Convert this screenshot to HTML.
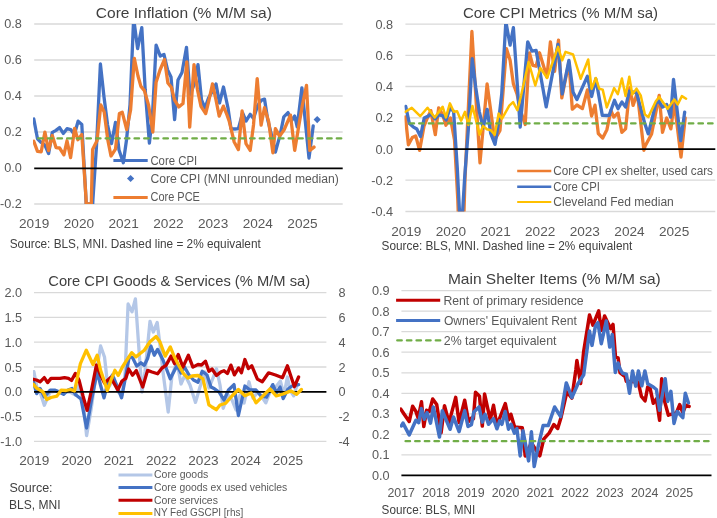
<!DOCTYPE html><html><head><meta charset="utf-8"><title>Core inflation charts</title>
<style>html,body{margin:0;padding:0;background:#fff;}svg{display:block;}text{font-family:"Liberation Sans",Arial,sans-serif;}</style></head><body>
<svg width="717" height="518" viewBox="0 0 717 518">
<rect width="717" height="518" fill="#fff"/>
<defs>
<clipPath id="c1"><rect x="33" y="24" width="311" height="180"/></clipPath>
<clipPath id="c2"><rect x="404.5" y="24.1" width="311" height="187.4"/></clipPath>
<clipPath id="c3"><rect x="33" y="292.6" width="294" height="148.5"/></clipPath>
<clipPath id="c4"><rect x="400" y="285" width="312" height="190.4"/></clipPath>
</defs>
<line x1="34.2" y1="24.0" x2="342.7" y2="24.0" stroke="#D9D9D9" stroke-width="1.3"/>
<line x1="34.2" y1="60.0" x2="342.7" y2="60.0" stroke="#D9D9D9" stroke-width="1.3"/>
<line x1="34.2" y1="96.0" x2="342.7" y2="96.0" stroke="#D9D9D9" stroke-width="1.3"/>
<line x1="34.2" y1="132.0" x2="342.7" y2="132.0" stroke="#D9D9D9" stroke-width="1.3"/>
<line x1="34.2" y1="204.0" x2="342.7" y2="204.0" stroke="#D9D9D9" stroke-width="1.3"/>
<text x="21.8" y="28.0" font-size="12.7" fill="#595959" text-anchor="end">0.8</text>
<text x="21.8" y="64.0" font-size="12.7" fill="#595959" text-anchor="end">0.6</text>
<text x="21.8" y="100.0" font-size="12.7" fill="#595959" text-anchor="end">0.4</text>
<text x="21.8" y="136.0" font-size="12.7" fill="#595959" text-anchor="end">0.2</text>
<text x="21.8" y="172.0" font-size="12.7" fill="#595959" text-anchor="end">0.0</text>
<text x="21.8" y="208.0" font-size="12.7" fill="#595959" text-anchor="end">-0.2</text>
<text x="34.2" y="227.6" font-size="13.0" fill="#595959" textLength="30.3" lengthAdjust="spacingAndGlyphs" text-anchor="middle">2019</text>
<text x="78.9" y="227.6" font-size="13.0" fill="#595959" textLength="30.3" lengthAdjust="spacingAndGlyphs" text-anchor="middle">2020</text>
<text x="123.6" y="227.6" font-size="13.0" fill="#595959" textLength="30.3" lengthAdjust="spacingAndGlyphs" text-anchor="middle">2021</text>
<text x="168.4" y="227.6" font-size="13.0" fill="#595959" textLength="30.3" lengthAdjust="spacingAndGlyphs" text-anchor="middle">2022</text>
<text x="213.1" y="227.6" font-size="13.0" fill="#595959" textLength="30.3" lengthAdjust="spacingAndGlyphs" text-anchor="middle">2023</text>
<text x="257.8" y="227.6" font-size="13.0" fill="#595959" textLength="30.3" lengthAdjust="spacingAndGlyphs" text-anchor="middle">2024</text>
<text x="302.5" y="227.6" font-size="13.0" fill="#595959" textLength="30.3" lengthAdjust="spacingAndGlyphs" text-anchor="middle">2025</text>
<text x="95.8" y="18.0" font-size="15.0" fill="#404040" textLength="176.0" lengthAdjust="spacingAndGlyphs">Core Inflation (% M/M sa)</text>
<text x="9.7" y="247.5" font-size="12.3" fill="#404040" textLength="251.1" lengthAdjust="spacingAndGlyphs">Source: BLS, MNI. Dashed line = 2% equivalent</text>
<polyline points="33.8,119.0 37.5,138.8 41.2,142.5 44.9,145.0 48.6,153.6 52.3,132.4 56.0,130.4 59.6,127.6 63.3,133.4 67.0,128.7 70.7,129.6 74.4,134.5 78.1,121.2 81.8,124.5 85.5,190.0 86.2,204.0 89.2,204.0 92.7,204.0 92.9,200.0 96.5,146.0 100.4,64.0 104.0,97.0 107.6,125.0 111.5,143.6 115.5,122.3 119.0,150.0 123.3,162.7 126.5,140.0 130.0,105.0 133.4,24.0 133.6,24.0 134.4,24.0 137.6,48.6 141.8,27.6 145.2,90.0 149.4,143.0 152.5,115.0 156.1,45.2 160.3,56.1 164.0,54.5 167.5,69.7 171.0,77.0 174.6,119.5 178.0,80.0 182.0,72.5 186.5,47.3 190.0,95.0 194.0,85.0 198.0,64.6 201.5,100.0 205.0,108.0 208.5,98.0 212.0,92.0 216.0,83.9 219.5,103.0 223.5,87.0 228.0,108.0 231.0,128.8 235.0,129.0 238.4,128.6 242.6,113.0 246.0,121.0 250.2,114.3 253.5,118.5 257.5,106.0 261.1,100.4 264.5,99.1 267.8,120.2 271.5,135.0 275.4,152.1 280.4,133.6 283.8,116.8 288.0,112.6 291.3,121.0 294.7,116.0 297.2,126.9 301.9,87.8 309.0,158.0 313.2,126.0" fill="none" stroke="#4472C4" stroke-width="3.3" stroke-linejoin="round" stroke-linecap="round" clip-path="url(#c1)"/>
<polyline points="33.8,141.3 37.5,151.4 41.2,151.8 44.9,132.1 48.6,150.6 52.3,135.5 56.0,147.6 59.6,148.0 63.9,154.8 67.0,140.8 70.6,157.6 74.6,128.5 77.9,139.7 81.8,134.6 86.0,198.0 86.2,204.0 88.9,204.0 91.3,204.0 92.6,149.5 97.0,140.8 100.8,105.0 104.2,112.0 107.8,140.0 111.0,156.0 115.5,149.2 119.4,113.4 122.2,112.2 126.7,129.6 130.6,110.0 134.3,58.3 138.0,76.0 140.9,86.4 144.4,90.6 148.6,105.2 152.8,132.1 156.1,82.2 160.0,70.0 164.5,59.5 167.9,83.0 171.3,87.2 174.6,100.2 178.8,106.9 183.0,103.5 186.8,61.8 189.7,127.1 194.0,64.6 197.5,90.0 201.0,106.3 205.7,113.6 209.0,100.0 212.5,83.9 216.0,100.0 219.2,116.1 223.4,106.1 227.0,115.0 229.2,121.2 234.2,142.0 238.4,149.6 242.1,110.9 246.0,143.7 250.2,150.4 253.5,125.0 257.2,78.6 261.1,125.2 264.5,107.6 268.7,121.8 272.9,152.9 275.4,128.6 279.6,136.1 284.0,130.0 290.5,115.1 294.7,150.4 298.9,125.2 302.3,105.5 306.5,85.3 309.8,150.4 314.0,147.1" fill="none" stroke="#ED7D31" stroke-width="3.3" stroke-linejoin="round" stroke-linecap="round" clip-path="url(#c1)"/>
<polygon points="317.2,116.0 320.8,119.6 317.2,123.2 313.6,119.6" fill="#4472C4"/>
<line x1="34.2" y1="168.4" x2="342.7" y2="168.4" stroke="#000" stroke-width="1.75"/>
<line x1="38.25" y1="138.4" x2="342.5" y2="138.4" stroke="#70AD47" stroke-width="2.3" stroke-dasharray="4.5 5.13" stroke-linecap="round"/>
<line x1="113.4" y1="160.4" x2="147.7" y2="160.4" stroke="#4472C4" stroke-width="3"/>
<text x="150.4" y="164.7" font-size="12.3" fill="#595959" textLength="46.8" lengthAdjust="spacingAndGlyphs">Core CPI</text>
<polygon points="130.6,174.9 134.2,178.5 130.6,182.1 127.0,178.5" fill="#4472C4"/>
<text x="150.4" y="182.6" font-size="12.3" fill="#595959" textLength="188.4" lengthAdjust="spacingAndGlyphs">Core CPI (MNI unrounded median)</text>
<line x1="113.4" y1="197.4" x2="147.7" y2="197.4" stroke="#ED7D31" stroke-width="3"/>
<text x="150.5" y="201.0" font-size="12.3" fill="#595959" textLength="49.4" lengthAdjust="spacingAndGlyphs">Core PCE</text>
<line x1="405.4" y1="24.1" x2="715.3" y2="24.1" stroke="#D9D9D9" stroke-width="1.3"/>
<line x1="405.4" y1="55.3" x2="715.3" y2="55.3" stroke="#D9D9D9" stroke-width="1.3"/>
<line x1="405.4" y1="86.5" x2="715.3" y2="86.5" stroke="#D9D9D9" stroke-width="1.3"/>
<line x1="405.4" y1="117.8" x2="715.3" y2="117.8" stroke="#D9D9D9" stroke-width="1.3"/>
<line x1="405.4" y1="180.2" x2="715.3" y2="180.2" stroke="#D9D9D9" stroke-width="1.3"/>
<line x1="405.4" y1="211.5" x2="715.3" y2="211.5" stroke="#D9D9D9" stroke-width="1.3"/>
<text x="393.1" y="28.6" font-size="12.7" fill="#595959" text-anchor="end">0.8</text>
<text x="393.1" y="59.8" font-size="12.7" fill="#595959" text-anchor="end">0.6</text>
<text x="393.1" y="91.0" font-size="12.7" fill="#595959" text-anchor="end">0.4</text>
<text x="393.1" y="122.3" font-size="12.7" fill="#595959" text-anchor="end">0.2</text>
<text x="393.1" y="153.5" font-size="12.7" fill="#595959" text-anchor="end">0.0</text>
<text x="393.1" y="184.7" font-size="12.7" fill="#595959" text-anchor="end">-0.2</text>
<text x="393.1" y="216.0" font-size="12.7" fill="#595959" text-anchor="end">-0.4</text>
<text x="406.3" y="235.6" font-size="13.0" fill="#595959" textLength="30.3" lengthAdjust="spacingAndGlyphs" text-anchor="middle">2019</text>
<text x="450.9" y="235.6" font-size="13.0" fill="#595959" textLength="30.3" lengthAdjust="spacingAndGlyphs" text-anchor="middle">2020</text>
<text x="495.6" y="235.6" font-size="13.0" fill="#595959" textLength="30.3" lengthAdjust="spacingAndGlyphs" text-anchor="middle">2021</text>
<text x="540.2" y="235.6" font-size="13.0" fill="#595959" textLength="30.3" lengthAdjust="spacingAndGlyphs" text-anchor="middle">2022</text>
<text x="584.8" y="235.6" font-size="13.0" fill="#595959" textLength="30.3" lengthAdjust="spacingAndGlyphs" text-anchor="middle">2023</text>
<text x="629.5" y="235.6" font-size="13.0" fill="#595959" textLength="30.3" lengthAdjust="spacingAndGlyphs" text-anchor="middle">2024</text>
<text x="674.1" y="235.6" font-size="13.0" fill="#595959" textLength="30.3" lengthAdjust="spacingAndGlyphs" text-anchor="middle">2025</text>
<text x="462.9" y="18.1" font-size="15.0" fill="#404040" textLength="195.1" lengthAdjust="spacingAndGlyphs">Core CPI Metrics (% M/M sa)</text>
<text x="381.6" y="250.0" font-size="12.3" fill="#404040" textLength="250.7" lengthAdjust="spacingAndGlyphs">Source: BLS, MNI. Dashed line = 2% equivalent</text>
<polyline points="405.4,116.8 408.4,144.8 412.3,137.5 415.7,135.9 419.6,150.4 424.1,125.8 426.9,119.0 430.8,110.6 435.3,134.7 438.7,107.8 442.6,114.6 445.9,125.2 450.4,117.9 454.5,140.0 457.8,200.0 458.2,211.5 461.3,211.5 464.0,211.5 465.0,179.0 468.8,98.0 471.9,31.5 476.8,112.4 480.0,162.8 487.1,83.9 494.7,140.0 500.0,130.4 506.4,48.6 510.1,60.3 513.4,83.9 517.0,94.0 521.1,112.4 525.2,124.5 529.4,52.8 532.8,65.4 536.1,66.2 539.5,52.8 546.9,77.1 550.4,41.8 554.6,71.3 558.5,40.2 561.8,97.9 568.9,62.0 572.3,109.2 576.9,105.0 582.4,108.6 587.4,89.9 591.6,116.1 595.0,105.2 598.3,133.5 602.7,138.1 606.9,129.7 610.9,110.3 613.8,117.1 618.0,112.9 621.9,132.3 625.6,128.9 629.8,87.7 633.1,105.4 637.3,92.8 643.9,150.4 644.9,146.6 651.6,133.9 659.2,95.3 662.5,132.3 666.7,118.0 670.9,128.9 674.3,102.0 681.0,157.0 685.2,118.0" fill="none" stroke="#ED7D31" stroke-width="3.3" stroke-linejoin="round" stroke-linecap="round" clip-path="url(#c2)"/>
<polyline points="405.7,106.4 409.4,123.6 413.1,126.8 416.8,129.0 420.5,136.5 424.2,118.1 427.9,116.3 431.4,113.9 435.1,118.9 438.8,114.9 442.5,115.6 446.2,119.9 449.9,108.3 453.6,111.2 457.3,168.1 459.5,211.5 461.0,211.5 462.6,211.5 464.7,176.8 468.3,129.9 472.2,58.7 475.7,87.3 479.3,111.6 483.2,127.8 487.2,109.3 490.7,133.4 495.0,144.4 498.2,124.7 501.7,94.3 505.7,24.1 505.9,24.1 506.3,24.1 510.1,45.2 513.4,27.6 520.2,127.1 527.7,41.8 531.9,51.1 536.1,50.3 546.2,106.9 558.0,44.4 562.2,93.9 568.9,60.3 573.1,92.3 576.9,99.6 587.4,76.3 591.6,96.5 595.8,78.8 602.3,115.4 607.1,115.5 609.2,115.3 614.5,100.3 618.0,108.7 621.9,102.0 625.6,107.1 629.3,91.1 636.5,92.8 644.9,123.9 648.3,133.9 655.8,103.7 658.3,100.3 662.5,107.1 666.7,104.5 670.6,117.1 673.5,79.3 680.7,140.7 684.7,112.1" fill="none" stroke="#4472C4" stroke-width="3.3" stroke-linejoin="round" stroke-linecap="round" clip-path="url(#c2)"/>
<polyline points="405.4,111.8 411.8,107.8 420.2,116.2 427.5,107.8 434.7,117.4 442.6,106.7 445.9,117.4 449.9,103.4 453.8,111.8 457.1,111.2 461.1,120.7 465.0,111.8 468.4,125.0 472.4,105.9 479.6,134.8 483.0,125.9 486.9,129.2 490.8,130.3 494.7,134.8 498.7,113.5 500.0,116.1 502.0,118.6 509.3,105.7 513.1,102.2 517.4,110.2 518.5,105.7 521.1,95.6 528.6,62.0 535.3,85.5 540.3,67.9 547.1,78.0 558.0,46.9 562.2,60.3 565.5,51.9 573.1,54.5 580.7,78.8 588.2,59.5 591.6,88.9 595.8,78.0 599.2,88.7 602.7,89.6 606.8,107.4 614.1,88.1 617.8,94.2 621.9,78.5 625.6,96.1 629.3,76.8 632.3,94.5 636.5,88.6 640.7,95.3 644.9,114.6 648.3,117.1 655.8,101.2 659.2,97.0 667.6,108.7 674.3,99.5 677.7,104.5 681.9,96.1 686.1,98.7" fill="none" stroke="#FFC000" stroke-width="2.5" stroke-linejoin="round" stroke-linecap="round" clip-path="url(#c2)"/>
<line x1="405.4" y1="149.0" x2="715.3" y2="149.0" stroke="#000" stroke-width="1.75"/>
<line x1="409.55" y1="123.4" x2="714.5" y2="123.4" stroke="#70AD47" stroke-width="2.3" stroke-dasharray="4.5 5.13" stroke-linecap="round"/>
<line x1="517.2" y1="170.9" x2="551.3" y2="170.9" stroke="#ED7D31" stroke-width="2.5"/>
<text x="553.3" y="174.6" font-size="12.3" fill="#595959" textLength="159.7" lengthAdjust="spacingAndGlyphs">Core CPI ex shelter, used cars</text>
<line x1="517.2" y1="186.8" x2="551.3" y2="186.8" stroke="#4472C4" stroke-width="2.5"/>
<text x="553.3" y="190.5" font-size="12.3" fill="#595959" textLength="46.6" lengthAdjust="spacingAndGlyphs">Core CPI</text>
<line x1="517.2" y1="202.1" x2="551.3" y2="202.1" stroke="#FFC000" stroke-width="2.0"/>
<text x="553.3" y="205.8" font-size="12.3" fill="#595959" textLength="120.5" lengthAdjust="spacingAndGlyphs">Cleveland Fed median</text>
<line x1="34.0" y1="292.6" x2="326.4" y2="292.6" stroke="#D9D9D9" stroke-width="1.3"/>
<line x1="34.0" y1="317.4" x2="326.4" y2="317.4" stroke="#D9D9D9" stroke-width="1.3"/>
<line x1="34.0" y1="342.2" x2="326.4" y2="342.2" stroke="#D9D9D9" stroke-width="1.3"/>
<line x1="34.0" y1="367.0" x2="326.4" y2="367.0" stroke="#D9D9D9" stroke-width="1.3"/>
<line x1="34.0" y1="416.6" x2="326.4" y2="416.6" stroke="#D9D9D9" stroke-width="1.3"/>
<line x1="34.0" y1="441.4" x2="326.4" y2="441.4" stroke="#D9D9D9" stroke-width="1.3"/>
<text x="22.1" y="297.1" font-size="12.7" fill="#595959" text-anchor="end">2.0</text>
<text x="22.1" y="321.9" font-size="12.7" fill="#595959" text-anchor="end">1.5</text>
<text x="22.1" y="346.7" font-size="12.7" fill="#595959" text-anchor="end">1.0</text>
<text x="22.1" y="371.5" font-size="12.7" fill="#595959" text-anchor="end">0.5</text>
<text x="22.1" y="396.3" font-size="12.7" fill="#595959" text-anchor="end">0.0</text>
<text x="22.1" y="421.1" font-size="12.7" fill="#595959" text-anchor="end">-0.5</text>
<text x="22.1" y="445.9" font-size="12.7" fill="#595959" text-anchor="end">-1.0</text>
<text x="338.4" y="297.1" font-size="12.7" fill="#595959">8</text>
<text x="338.4" y="321.9" font-size="12.7" fill="#595959">6</text>
<text x="338.4" y="346.7" font-size="12.7" fill="#595959">4</text>
<text x="338.4" y="371.5" font-size="12.7" fill="#595959">2</text>
<text x="338.4" y="396.3" font-size="12.7" fill="#595959">0</text>
<text x="338.4" y="421.1" font-size="12.7" fill="#595959">-2</text>
<text x="338.4" y="445.9" font-size="12.7" fill="#595959">-4</text>
<text x="34.3" y="464.6" font-size="13.0" fill="#595959" textLength="30.3" lengthAdjust="spacingAndGlyphs" text-anchor="middle">2019</text>
<text x="76.6" y="464.6" font-size="13.0" fill="#595959" textLength="30.3" lengthAdjust="spacingAndGlyphs" text-anchor="middle">2020</text>
<text x="118.8" y="464.6" font-size="13.0" fill="#595959" textLength="30.3" lengthAdjust="spacingAndGlyphs" text-anchor="middle">2021</text>
<text x="161.1" y="464.6" font-size="13.0" fill="#595959" textLength="30.3" lengthAdjust="spacingAndGlyphs" text-anchor="middle">2022</text>
<text x="203.4" y="464.6" font-size="13.0" fill="#595959" textLength="30.3" lengthAdjust="spacingAndGlyphs" text-anchor="middle">2023</text>
<text x="245.7" y="464.6" font-size="13.0" fill="#595959" textLength="30.3" lengthAdjust="spacingAndGlyphs" text-anchor="middle">2024</text>
<text x="287.9" y="464.6" font-size="13.0" fill="#595959" textLength="30.3" lengthAdjust="spacingAndGlyphs" text-anchor="middle">2025</text>
<text x="48.3" y="285.6" font-size="15.0" fill="#404040" textLength="261.8" lengthAdjust="spacingAndGlyphs">Core CPI Goods &amp; Services (% M/M sa)</text>
<polyline points="33.9,371.7 37.0,388.0 40.0,392.0 44.3,405.3 50.0,392.0 56.0,391.0 63.0,392.0 70.0,392.0 75.4,395.0 79.0,385.0 83.0,400.0 86.6,435.6 91.0,410.0 96.0,375.0 100.6,346.0 104.5,357.0 108.0,388.0 110.0,385.0 114.0,378.0 118.0,392.0 122.0,395.0 125.0,375.0 128.1,304.0 132.0,311.8 135.4,298.9 139.0,350.0 142.0,392.0 145.0,372.0 150.0,321.3 153.3,332.0 157.2,322.5 160.0,345.0 163.0,372.0 168.2,412.0 172.0,375.0 177.0,362.0 181.0,384.0 185.0,375.0 190.0,385.0 195.5,402.4 200.0,387.0 205.0,372.0 209.0,388.0 213.0,378.0 216.5,368.7 220.0,385.0 223.2,408.3 228.0,395.0 232.0,400.0 236.0,410.0 240.0,395.0 244.0,403.0 249.0,381.8 253.0,398.0 258.0,392.0 262.0,397.0 265.8,402.8 270.0,392.0 275.0,388.0 280.4,381.1 284.0,395.0 287.4,377.0 290.0,390.0 293.7,395.8 297.0,385.0" fill="none" stroke="#B4C7E7" stroke-width="3.3" stroke-linejoin="round" stroke-linecap="round" clip-path="url(#c3)"/>
<polyline points="33.4,381.8 36.7,393.6 40.1,388.5 44.3,396.9 50.2,390.2 55.2,390.2 59.0,392.0 63.6,394.4 68.0,390.0 72.0,388.5 75.4,394.4 81.0,399.0 86.6,428.0 91.5,400.0 97.2,371.7 100.5,385.0 104.0,397.8 108.0,382.0 112.4,375.1 117.0,386.0 121.6,397.8 125.0,380.0 129.2,356.9 132.5,357.5 136.7,366.1 140.9,362.8 144.3,365.3 147.6,358.6 150.9,346.0 154.3,355.3 157.6,349.4 163.0,360.0 170.3,378.8 177.0,365.4 181.0,373.0 184.5,367.0 189.0,375.0 193.5,380.0 198.0,382.2 202.2,371.3 207.0,375.0 211.0,387.0 214.5,388.8 219.0,392.0 224.0,400.0 228.5,390.0 234.0,384.6 238.4,415.5 244.9,386.0 250.0,390.0 256.0,390.0 261.0,396.0 266.5,397.2 272.8,384.6 276.5,393.0 280.0,387.0 283.2,398.6 288.0,389.0 292.0,386.0 298.6,384.6" fill="none" stroke="#4472C4" stroke-width="3.3" stroke-linejoin="round" stroke-linecap="round" clip-path="url(#c3)"/>
<polyline points="33.4,379.3 36.5,380.0 40.1,381.8 44.3,377.6 47.6,382.6 51.0,378.4 55.0,378.4 60.0,378.4 64.5,377.6 68.5,378.4 71.5,380.5 75.4,373.4 79.0,380.0 83.0,396.0 87.1,410.4 91.5,390.0 96.4,365.0 100.5,375.0 104.5,383.0 110.7,377.5 117.8,390.0 122.0,381.0 125.8,378.4 128.7,369.0 132.5,375.2 136.3,370.6 142.7,387.0 147.6,370.4 152.0,372.0 157.6,373.8 162.0,368.0 166.0,365.4 171.1,356.1 174.5,363.7 178.3,354.5 182.9,367.1 188.4,355.3 192.9,367.1 198.0,364.5 201.5,365.0 205.5,361.2 208.9,371.3 212.0,369.0 216.5,375.5 220.7,372.1 224.0,370.7 227.4,373.5 230.9,365.1 234.4,374.9 238.6,367.9 241.4,372.8 244.9,359.5 248.4,368.6 251.8,365.8 257.4,379.1 262.3,381.8 268.6,372.8 275.5,375.0 282.5,377.7 287.4,365.8 294.4,386.7 298.6,377.0" fill="none" stroke="#C00000" stroke-width="3.3" stroke-linejoin="round" stroke-linecap="round" clip-path="url(#c3)"/>
<line x1="34.0" y1="391.9" x2="326.4" y2="391.9" stroke="#000" stroke-width="1.75"/>
<polyline points="33.4,384.3 36.5,388.0 40.1,390.2 43.0,392.0 46.8,399.5 51.0,397.5 56.9,396.1 61.1,390.2 66.0,390.5 70.5,389.5 74.5,391.0 80.4,363.6 86.3,350.2 93.0,364.5 97.2,355.2 100.6,370.3 104.0,380.4 107.3,390.5 111.0,380.0 114.9,370.3 118.2,375.4 122.4,367.0 126.6,360.3 131.7,352.7 135.9,356.9 140.1,353.5 144.3,350.2 150.0,341.8 156.1,336.5 160.0,342.0 165.2,356.1 170.3,346.9 174.0,356.0 178.0,364.0 183.7,373.8 187.9,378.0 192.0,376.0 198.0,375.5 203.0,378.8 208.9,404.9 212.0,407.0 216.3,409.7 220.0,405.0 225.7,403.2 232.0,396.0 238.4,389.5 244.9,395.8 251.1,393.0 256.0,402.8 263.0,395.8 270.0,388.8 276.2,395.8 283.0,394.0 290.9,390.9 296.5,394.4 301.4,389.5" fill="none" stroke="#FFC000" stroke-width="3.3" stroke-linejoin="round" stroke-linecap="round" clip-path="url(#c3)"/>
<line x1="118.5" y1="475.1" x2="152.4" y2="475.1" stroke="#B4C7E7" stroke-width="3"/>
<text x="154.0" y="478.4" font-size="11.2" fill="#595959" textLength="54.3" lengthAdjust="spacingAndGlyphs">Core goods</text>
<line x1="118.5" y1="487.6" x2="152.4" y2="487.6" stroke="#4472C4" stroke-width="3"/>
<text x="154.0" y="491.0" font-size="11.2" fill="#595959" textLength="133.3" lengthAdjust="spacingAndGlyphs">Core goods ex used vehicles</text>
<line x1="118.5" y1="500.2" x2="152.4" y2="500.2" stroke="#C00000" stroke-width="3"/>
<text x="154.0" y="503.6" font-size="11.2" fill="#595959" textLength="63.9" lengthAdjust="spacingAndGlyphs">Core services</text>
<line x1="118.5" y1="513.5" x2="152.4" y2="513.5" stroke="#FFC000" stroke-width="3"/>
<text x="153.7" y="516.4" font-size="11.2" fill="#595959" textLength="89.5" lengthAdjust="spacingAndGlyphs">NY Fed GSCPI [rhs]</text>
<text x="9.5" y="492.2" font-size="13.0" fill="#404040" textLength="43.1" lengthAdjust="spacingAndGlyphs">Source:</text>
<text x="9.0" y="508.5" font-size="13.0" fill="#404040" textLength="51.5" lengthAdjust="spacingAndGlyphs">BLS, MNI</text>
<line x1="401.4" y1="454.9" x2="711.5" y2="454.9" stroke="#D9D9D9" stroke-width="1.3"/>
<line x1="401.4" y1="434.3" x2="711.5" y2="434.3" stroke="#D9D9D9" stroke-width="1.3"/>
<line x1="401.4" y1="413.8" x2="711.5" y2="413.8" stroke="#D9D9D9" stroke-width="1.3"/>
<line x1="401.4" y1="393.3" x2="711.5" y2="393.3" stroke="#D9D9D9" stroke-width="1.3"/>
<line x1="401.4" y1="372.8" x2="711.5" y2="372.8" stroke="#D9D9D9" stroke-width="1.3"/>
<line x1="401.4" y1="352.2" x2="711.5" y2="352.2" stroke="#D9D9D9" stroke-width="1.3"/>
<line x1="401.4" y1="331.7" x2="711.5" y2="331.7" stroke="#D9D9D9" stroke-width="1.3"/>
<line x1="401.4" y1="311.2" x2="711.5" y2="311.2" stroke="#D9D9D9" stroke-width="1.3"/>
<line x1="401.4" y1="290.6" x2="711.5" y2="290.6" stroke="#D9D9D9" stroke-width="1.3"/>
<text x="389.6" y="479.9" font-size="12.7" fill="#595959" text-anchor="end">0.0</text>
<text x="389.6" y="459.4" font-size="12.7" fill="#595959" text-anchor="end">0.1</text>
<text x="389.6" y="438.8" font-size="12.7" fill="#595959" text-anchor="end">0.2</text>
<text x="389.6" y="418.3" font-size="12.7" fill="#595959" text-anchor="end">0.3</text>
<text x="389.6" y="397.8" font-size="12.7" fill="#595959" text-anchor="end">0.4</text>
<text x="389.6" y="377.2" font-size="12.7" fill="#595959" text-anchor="end">0.5</text>
<text x="389.6" y="356.7" font-size="12.7" fill="#595959" text-anchor="end">0.6</text>
<text x="389.6" y="336.2" font-size="12.7" fill="#595959" text-anchor="end">0.7</text>
<text x="389.6" y="315.7" font-size="12.7" fill="#595959" text-anchor="end">0.8</text>
<text x="389.6" y="295.1" font-size="12.7" fill="#595959" text-anchor="end">0.9</text>
<text x="401.2" y="496.8" font-size="12.4" fill="#595959" text-anchor="middle">2017</text>
<text x="436.0" y="496.8" font-size="12.4" fill="#595959" text-anchor="middle">2018</text>
<text x="470.8" y="496.8" font-size="12.4" fill="#595959" text-anchor="middle">2019</text>
<text x="505.5" y="496.8" font-size="12.4" fill="#595959" text-anchor="middle">2020</text>
<text x="540.3" y="496.8" font-size="12.4" fill="#595959" text-anchor="middle">2021</text>
<text x="575.1" y="496.8" font-size="12.4" fill="#595959" text-anchor="middle">2022</text>
<text x="609.9" y="496.8" font-size="12.4" fill="#595959" text-anchor="middle">2023</text>
<text x="644.7" y="496.8" font-size="12.4" fill="#595959" text-anchor="middle">2024</text>
<text x="679.4" y="496.8" font-size="12.4" fill="#595959" text-anchor="middle">2025</text>
<text x="447.9" y="284.3" font-size="15.0" fill="#404040" textLength="212.9" lengthAdjust="spacingAndGlyphs">Main Shelter Items (% M/M sa)</text>
<text x="381.6" y="513.5" font-size="12.3" fill="#404040" textLength="93.6" lengthAdjust="spacingAndGlyphs">Source: BLS, MNI</text>
<polyline points="400.8,409.1 404.2,414.2 409.2,421.5 412.6,406.3 415.9,411.4 418.2,418.1 421.5,401.8 423.8,426.5 426.6,410.3 429.4,411.4 432.7,399.0 436.7,404.6 441.1,432.7 444.5,405.8 449.0,422.6 455.7,397.4 459.1,422.6 464.7,400.2 468.6,421.5 471.4,418.1 473.4,418.7 475.5,392.3 479.5,396.3 482.3,426.0 484.6,394.0 490.2,419.8 493.5,405.3 496.9,425.4 499.7,418.1 505.3,403.6 508.7,419.8 510.9,414.2 514.8,427.7 516.8,427.3 522.3,427.8 525.2,455.9 531.4,443.0 539.8,455.9 543.7,439.1 549.3,432.9 553.8,424.5 557.7,428.4 561.1,417.2 566.9,391.9 571.9,398.1 575.9,369.5 576.9,360.5 580.6,383.5 583.6,352.1 589.5,315.1 592.9,325.2 598.7,310.9 601.3,330.3 604.6,316.0 610.5,328.6 613.0,324.4 615.5,357.1 618.1,358.0 620.0,372.6 623.8,375.7 624.8,375.6 626.3,381.3 638.2,382.0 641.4,396.4 645.1,400.8 647.7,387.0 650.2,388.9 653.3,403.3 656.4,398.9 659.6,420.2 661.7,378.8 664.6,401.4 668.4,415.2 676.5,412.7 679.7,404.6 682.8,412.7 685.9,405.2 689.1,406.4" fill="none" stroke="#C00000" stroke-width="3.5" stroke-linejoin="round" stroke-linecap="round" clip-path="url(#c4)"/>
<polyline points="401.4,425.9 403.0,423.1 409.2,434.9 415.9,420.3 418.7,422.6 421.5,408.6 424.3,419.2 427.1,412.5 430.5,423.1 433.3,406.9 436.1,420.3 439.5,437.1 442.3,410.8 450.1,429.3 453.5,417.0 459.1,431.5 464.7,410.8 468.0,426.5 471.4,424.8 473.8,412.0 479.0,406.9 482.3,422.1 485.1,414.2 488.5,424.3 493.5,418.7 496.9,428.8 499.7,420.9 501.9,424.3 505.2,411.5 508.5,429.2 511.1,424.4 514.4,433.1 516.9,428.6 520.2,455.9 523.0,430.7 528.6,460.9 531.4,431.8 534.2,466.5 538.1,446.9 543.1,425.6 548.2,425.6 554.6,407.0 560.6,416.6 566.3,382.9 571.9,397.5 578.1,383.5 583.7,374.8 589.5,331.1 592.0,345.4 595.4,326.1 597.9,322.7 601.3,343.7 606.3,321.0 609.7,347.1 612.2,334.5 615.3,372.4 618.1,363.0 620.0,368.8 621.4,371.4 622.6,373.2 626.4,374.2 629.5,393.3 632.5,370.9 635.7,386.1 638.4,370.9 641.8,385.8 644.9,370.9 647.7,383.8 653.3,387.0 656.4,389.5 659.6,410.2 665.2,378.8 667.7,401.4 670.9,391.4 674.0,423.4 677.2,411.5 682.8,417.7 685.3,393.3 688.4,402.7" fill="none" stroke="#4472C4" stroke-width="3.5" stroke-linejoin="round" stroke-linecap="round" clip-path="url(#c4)"/>
<line x1="401.4" y1="475.4" x2="711.5" y2="475.4" stroke="#000" stroke-width="1.75"/>
<line x1="405.55" y1="441.2" x2="710.0" y2="441.2" stroke="#70AD47" stroke-width="2.3" stroke-dasharray="4.5 5.13" stroke-linecap="round"/>
<line x1="396.1" y1="300.3" x2="440.2" y2="300.3" stroke="#C00000" stroke-width="3"/>
<text x="443.4" y="305.3" font-size="13.0" fill="#595959" textLength="140.3" lengthAdjust="spacingAndGlyphs">Rent of primary residence</text>
<line x1="396.1" y1="320.6" x2="440.2" y2="320.6" stroke="#4472C4" stroke-width="3"/>
<text x="443.9" y="325.1" font-size="13.0" fill="#595959" textLength="133.0" lengthAdjust="spacingAndGlyphs">Owners' Equivalent Rent</text>
<line x1="397.25" y1="340.4" x2="441.0" y2="340.4" stroke="#70AD47" stroke-width="2.3" stroke-dasharray="4.5 5.13" stroke-linecap="round"/>
<text x="443.8" y="344.6" font-size="13.0" fill="#595959" textLength="112.7" lengthAdjust="spacingAndGlyphs">2% target equivalent</text>
</svg></body></html>
